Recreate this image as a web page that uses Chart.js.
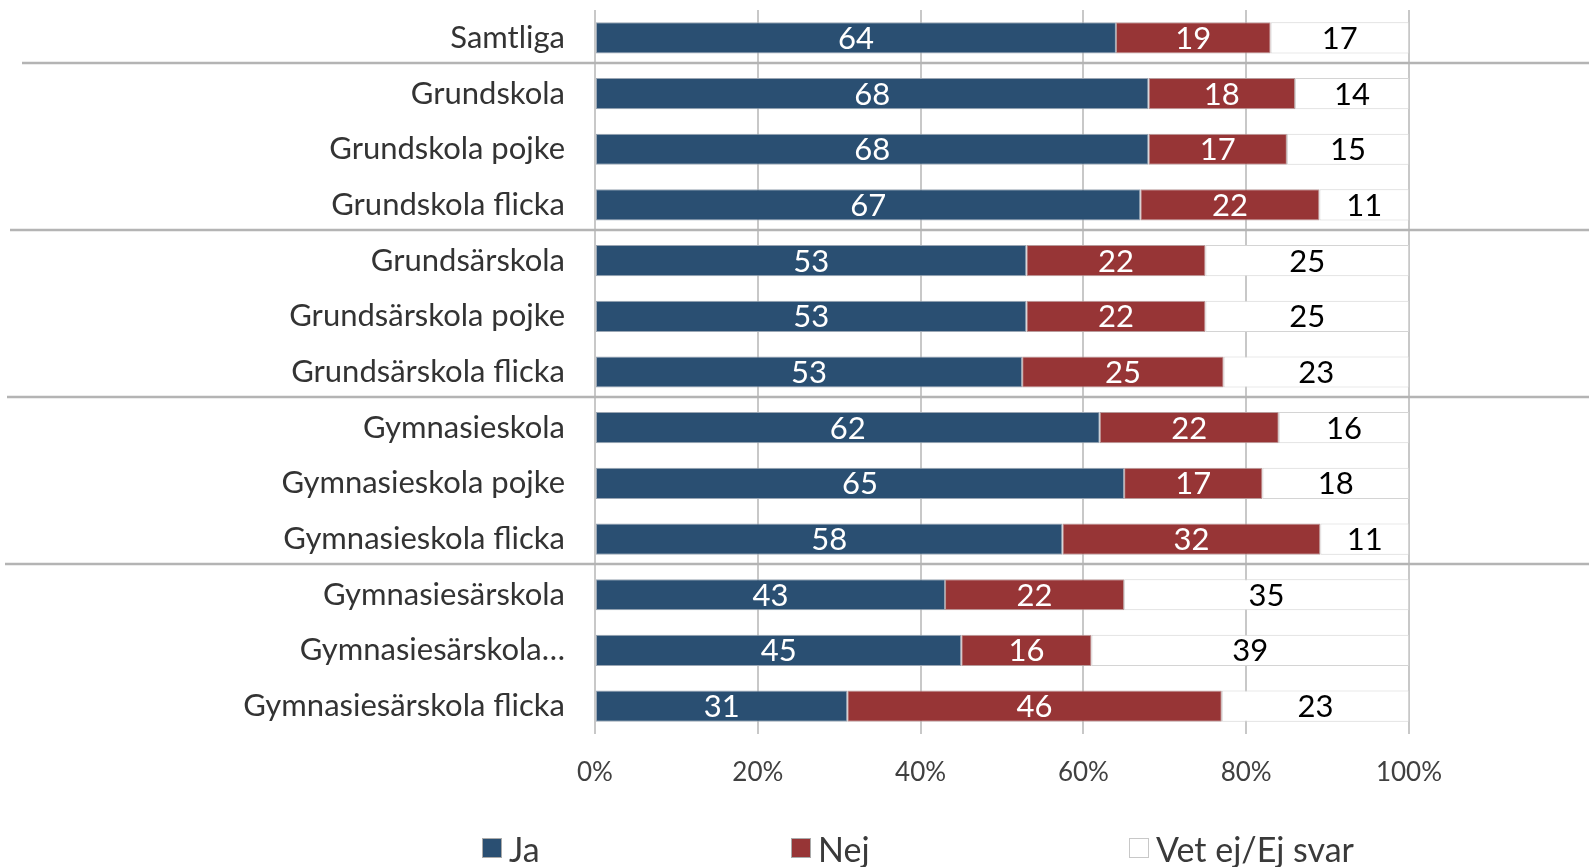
<!DOCTYPE html>
<html><head><meta charset="utf-8">
<script src="https://cdn.jsdelivr.net/npm/chart.js@4.4.1/dist/chart.umd.min.js"></script>
<style>
html,body{margin:0;padding:0;background:#fff;}
#wrap{position:relative;width:1589px;height:867px;}
#legend{position:absolute;left:0;top:0;width:1589px;height:867px;pointer-events:none;font-family:Lato,sans-serif;}
.li{position:absolute;top:828px;height:40px;display:flex;align-items:center;font-size:34px;color:#3a3a3a;white-space:nowrap;}
.box{width:20px;height:20px;box-sizing:border-box;margin-right:7px;}
</style></head>
<body><div id="wrap"><canvas id="c" width="1589" height="867"></canvas><div id="legend"></div></div>
<script>
const categories = ['Samtliga','Grundskola','Grundskola pojke','Grundskola flicka','Grundsärskola','Grundsärskola pojke','Grundsärskola flicka','Gymnasieskola','Gymnasieskola pojke','Gymnasieskola flicka','Gymnasiesärskola','Gymnasiesärskola…','Gymnasiesärskola flicka'];
const ja  = [64,68,68,67,53,53,53,62,65,58,43,45,31];
const nej = [19,18,17,22,22,22,25,22,17,32,22,16,46];
const vet = [17,14,15,11,25,25,23,16,18,11,35,39,23];
const seriesNames = ['Ja','Nej','Vet ej/Ej svar'];
const xTicks = [0,20,40,60,80,100];
const groupStarts = [1,4,7,10];

const totals = ja.map((v,i)=>v+nej[i]+vet[i]);
const share = arr => arr.map((v,i)=>v/totals[i]*100);
const raw = [ja,nej,vet];
const fills = ['#2A4F72','#973536','#FFFFFF'];
const borders = ['#9aa6b4','#b89a9a','#d4d4d4'];
const labelColors = ['#FFFFFF','#FFFFFF','#000000'];

const FONT = 'Lato';

const dataLabels = {
  id:'dataLabels',
  afterDatasetsDraw(chart){
    const ctx = chart.ctx;
    ctx.save();
    ctx.font = '31px ' + FONT;
    ctx.textAlign = 'center';
    ctx.textBaseline = 'middle';
    chart.data.datasets.forEach((ds,di)=>{
      const meta = chart.getDatasetMeta(di);
      ctx.fillStyle = labelColors[di];
      meta.data.forEach((el,i)=>{
        const cx = (el.x + el.base)/2;
        ctx.fillText(String(raw[di][i]), cx, el.y + 1);
      });
    });
    ctx.restore();
  }
};

const separators = {
  id:'separators',
  afterDraw(chart){
    const ctx = chart.ctx, y = chart.scales.y;
    const lefts = [22,10,7,5];
    ctx.save();
    ctx.strokeStyle = '#b4b4b4';
    ctx.lineWidth = 2.5;
    groupStarts.forEach((g,k)=>{
      const yy = Math.round((y.getPixelForValue(g-1)+y.getPixelForValue(g))/2) - 3;
      ctx.beginPath();
      ctx.moveTo(lefts[k], yy);
      ctx.lineTo(chart.width, yy);
      ctx.stroke();
    });
    ctx.restore();
  }
};

const chart = new Chart(document.getElementById('c'), {
  type:'bar',
  data:{
    labels: categories,
    datasets: seriesNames.map((n,di)=>({
      label:n,
      data: share(raw[di]),
      backgroundColor: fills[di],
      borderColor: borders[di],
      borderWidth: 1,
      borderSkipped: false,
      categoryPercentage: 1,
      barPercentage: 0.56
    }))
  },
  options:{
    indexAxis:'y',
    responsive:false,
    animation:false,
    devicePixelRatio:1,
    layout:{padding:{top:10,right:180,bottom:82,left:0}},
    plugins:{legend:{display:false},tooltip:{enabled:false}},
    scales:{
      x:{
        stacked:true,min:0,max:100,
        afterBuildTicks: s => { s.ticks = xTicks.map(v=>({value:v})); },
        afterFit: s => { s.height = 51; s.paddingLeft = 0; },
        ticks:{callback:v=>v+'%',font:{family:FONT,size:26},color:'#404040',padding:23,maxRotation:0},
        grid:{color:'#c8c8c8',lineWidth:2,drawTicks:false},
        border:{display:false}
      },
      y:{
        stacked:true,
        afterFit: s => { s.width = 595; s.paddingTop = 0; s.paddingBottom = 0; },
        ticks:{font:{family:FONT,size:31},color:'#333333',padding:30,autoSkip:false},
        grid:{display:false,drawTicks:false},
        border:{display:false}
      }
    }
  },
  plugins:[dataLabels,separators]
});

const legendLefts = [482,791,1129];
const lg = document.getElementById('legend');
seriesNames.forEach((n,i)=>{
  const d = document.createElement('div');
  d.className='li';
  d.style.left = legendLefts[i]+'px';
  const b = document.createElement('span');
  b.className='box';
  b.style.background = fills[i];
  b.style.border = '1px solid ' + (i===2 ? '#c8c8c8' : '#aaaaaa');
  const t = document.createElement('span');
  t.textContent = n;
  d.appendChild(b); d.appendChild(t);
  lg.appendChild(d);
});
</script>
</body></html>
